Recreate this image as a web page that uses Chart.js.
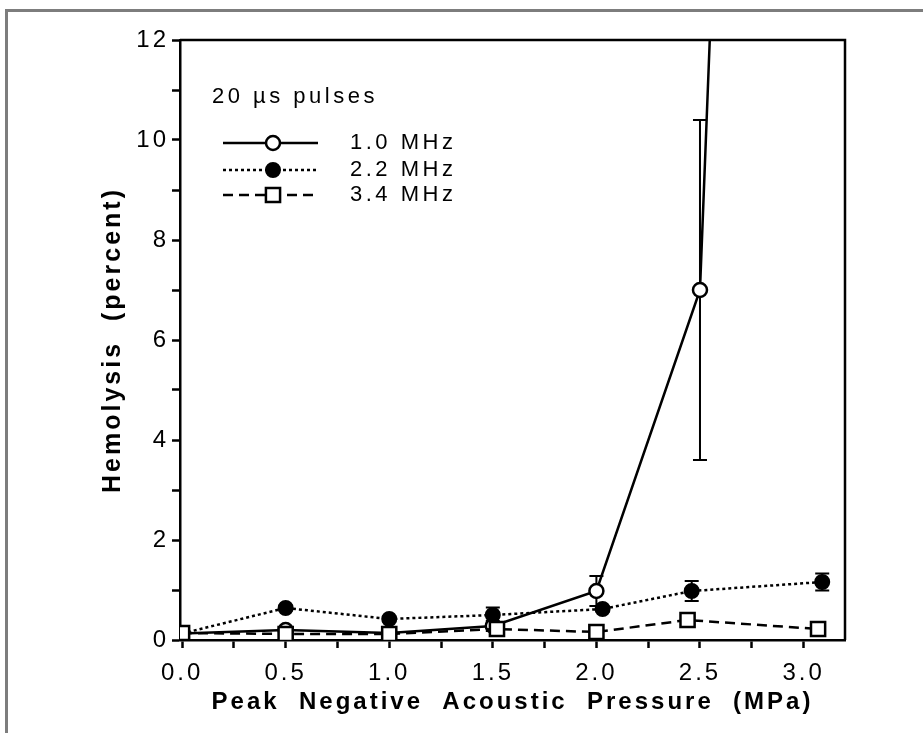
<!DOCTYPE html>
<html>
<head>
<meta charset="utf-8">
<script src="https://cdn.jsdelivr.net/npm/chart.js@4.4.1/dist/chart.umd.min.js"></script>
<style>
  html, body { margin: 0; padding: 0; background: #fff; overflow: hidden; }
  #frame { position: absolute; left: 5px; top: 9px; width: 1000px; height: 1000px;
           border-left: 3px solid #7d7d7d; border-top: 3px solid #7d7d7d; }
  #wrap { position: absolute; left: 0; top: 0; width: 923px; height: 733px; }
</style>
</head>
<body>
<div id="frame"></div>
<div id="wrap"><canvas id="hemoChart" width="923" height="733"></canvas></div>
<script>
// hemolysis vs peak negative pressure, 20 us pulses

const pressure10 = [0, 0.5, 1.0, 1.5, 2.0, 2.5, 3.0];
const hemo10 = [0.13, 0.2, 0.14, 0.28, 0.98, 7.0, 60];
const err10 = [0, 0, 0, 0.1, 0.3, 3.4, 0];

const pressure22 = [0, 0.5, 1.0, 1.5, 2.03, 2.46, 3.09];
const hemo22 = [0.13, 0.64, 0.42, 0.5, 0.62, 0.98, 1.16];
const err22 = [0, 0.05, 0.05, 0.15, 0.05, 0.2, 0.17];

const pressure34 = [0, 0.5, 1.0, 1.52, 2.0, 2.44, 3.07];
const hemo34 = [0.14, 0.12, 0.12, 0.22, 0.16, 0.4, 0.22];
const err34 = [0, 0, 0, 0, 0, 0, 0];

const seriesLabels = ['1.0 MHz', '2.2 MHz', '3.4 MHz'];
const legendTitle = '20 \u00b5s pulses';
const xTicks = [0, 0.5, 1.0, 1.5, 2.0, 2.5, 3.0];
const yTicks = [0, 2, 4, 6, 8, 10, 12];

function pts(xs, ys) {
    return xs.map((x, i) => ({ x: x, y: ys[i] }));
}
function isLabelled(list, v) {
    return list.some(t => Math.abs(t - v) < 1e-6);
}

const FONT = "'Liberation Sans', Arial, sans-serif";
Chart.defaults.font.family = FONT;
Chart.defaults.color = '#000';

// the scanned figure has wide lettering
const spacing = {
    id: 'spacing',
    beforeDraw(chart) { chart.ctx.letterSpacing = '3px'; }
};

const errorBars = {
    id: 'errorBars',
    beforeDatasetsDraw(chart) {
        const ctx = chart.ctx;
        const area = chart.chartArea;
        const y = chart.scales.y;
        ctx.save();
        ctx.beginPath();
        ctx.rect(area.left, area.top, area.right - area.left, area.bottom - area.top);
        ctx.clip();
        ctx.strokeStyle = '#000';
        ctx.lineWidth = 2;
        chart.data.datasets.forEach((ds, di) => {
            const meta = chart.getDatasetMeta(di);
            meta.data.forEach((pt, i) => {
                const e = ds.errors[i];
                if (!e) return;
                const v = ds.data[i].y;
                const top = y.getPixelForValue(v + e);
                const bot = y.getPixelForValue(v - e);
                ctx.beginPath();
                ctx.moveTo(pt.x, top); ctx.lineTo(pt.x, bot);
                ctx.moveTo(pt.x - 7, top); ctx.lineTo(pt.x + 7, top);
                ctx.moveTo(pt.x - 7, bot); ctx.lineTo(pt.x + 7, bot);
                ctx.stroke();
            });
        });
        ctx.restore();
    }
};

const frameAndLegend = {
    id: 'frameAndLegend',
    afterDraw(chart) {
        const ctx = chart.ctx;
        const a = chart.chartArea;
        ctx.save();
        ctx.strokeStyle = '#000';
        ctx.lineWidth = 2.5;
        ctx.beginPath();
        ctx.moveTo(a.left, a.top); ctx.lineTo(a.right, a.top); ctx.lineTo(a.right, a.bottom);
        ctx.stroke();

        ctx.letterSpacing = '3.5px';
        ctx.font = '22px ' + FONT;
        ctx.fillStyle = '#000';
        ctx.textBaseline = 'middle';
        ctx.fillText(legendTitle, a.left + 32, a.top + 57);

        const rows = [a.top + 103, a.top + 130, a.top + 155];
        chart.data.datasets.forEach((ds, i) => {
            const yy = rows[i];
            ctx.setLineDash(ds.borderDash || []);
            ctx.lineWidth = ds.borderWidth;
            ctx.strokeStyle = '#000';
            ctx.beginPath();
            ctx.moveTo(a.left + 43, yy); ctx.lineTo(a.left + 138, yy);
            ctx.stroke();
            ctx.setLineDash([]);
            ctx.fillStyle = ds.pointBackgroundColor;
            ctx.lineWidth = ds.pointBorderWidth;
            Chart.helpers.drawPoint(ctx, {
                pointStyle: ds.pointStyle,
                radius: ds.pointRadius,
                rotation: 0,
                borderWidth: ds.pointBorderWidth
            }, a.left + 93, yy);
            ctx.fillStyle = '#000';
            ctx.fillText(ds.label, a.left + 170, yy);
        });
        ctx.restore();
    }
};

const ctx = document.getElementById('hemoChart').getContext('2d');

new Chart(ctx, {
    type: 'scatter',
    data: {
        datasets: [{
            label: seriesLabels[0],
            data: pts(pressure10, hemo10),
            errors: err10,
            showLine: true,
            borderColor: '#000',
            borderWidth: 2.5,
            pointStyle: 'circle',
            pointRadius: 7,
            pointBorderWidth: 2.5,
            pointBorderColor: '#000',
            pointBackgroundColor: '#fff',
            order: 2
        }, {
            label: seriesLabels[1],
            data: pts(pressure22, hemo22),
            errors: err22,
            showLine: true,
            borderColor: '#000',
            borderWidth: 2.5,
            borderDash: [3, 3],
            pointStyle: 'circle',
            pointRadius: 7,
            pointBorderWidth: 2,
            pointBorderColor: '#000',
            pointBackgroundColor: '#000',
            order: 1
        }, {
            label: seriesLabels[2],
            data: pts(pressure34, hemo34),
            errors: err34,
            showLine: true,
            borderColor: '#000',
            borderWidth: 2.5,
            borderDash: [10, 6],
            pointStyle: 'rect',
            pointRadius: 10,
            pointBorderWidth: 2.5,
            pointBorderColor: '#000',
            pointBackgroundColor: '#fff',
            order: 0
        }]
    },
    options: {
        responsive: false,
        animation: false,
        layout: { padding: { left: 0, right: 78, top: 40, bottom: 0 } },
        plugins: {
            legend: { display: false },
            tooltip: { enabled: false }
        },
        scales: {
            x: {
                type: 'linear',
                min: -0.01,
                max: 3.2,
                afterFit(scale) { scale.height = 93; },
                grid: { drawOnChartArea: false, color: '#000', tickLength: 8, tickWidth: 2.5 },
                border: { display: true, color: '#000', width: 2.5 },
                ticks: {
                    stepSize: 0.25,
                    includeBounds: false,
                    autoSkip: false,
                    maxRotation: 0,
                    padding: 11,
                    font: { size: 24 },
                    callback: v => isLabelled(xTicks, v) ? v.toFixed(1) : ''
                },
                title: {
                    display: true,
                    text: 'Peak  Negative  Acoustic  Pressure  (MPa)',
                    font: { size: 24, weight: 'bold' },
                    padding: { top: 0, bottom: 16 }
                }
            },
            y: {
                min: 0,
                max: 12,
                afterFit(scale) { scale.width = 180; },
                grid: { drawOnChartArea: false, color: '#000', tickLength: 8, tickWidth: 2.5 },
                border: { display: true, color: '#000', width: 2.5 },
                ticks: {
                    stepSize: 1,
                    autoSkip: false,
                    padding: 3,
                    font: { size: 24 },
                    callback: v => isLabelled(yTicks, v) ? String(v) : ''
                },
                title: {
                    display: true,
                    text: 'Hemolysis  (percent)',
                    font: { size: 25, weight: 'bold' },
                    padding: { top: 98, bottom: 0 }
                }
            }
        }
    },
    plugins: [spacing, errorBars, frameAndLegend]
});
</script>
</body>
</html>
